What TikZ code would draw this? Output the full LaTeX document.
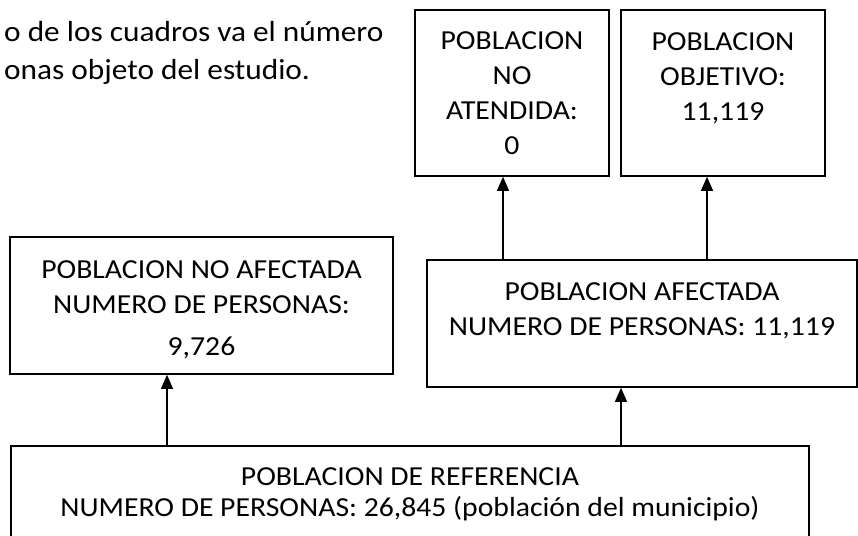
\documentclass[tikz,border=0pt]{standalone}
\usepackage{fontspec}
\setmainfont{Carlito}[FakeStretch=1.08]
\usetikzlibrary{arrows.meta}
\begin{document}
\begin{tikzpicture}[x=1pt,y=-1pt,
  box/.style={draw=black,line width=1.6pt,inner sep=0pt},
  txt/.style={align=center,inner sep=0pt,font=\fontsize{27.5}{35}\selectfont},
  arr/.style={line width=1.3pt,-{Triangle[width=12pt,length=14pt]}}]
\useasboundingbox (0,0) rectangle (858,535);
% boxes
\node[box,minimum width=194pt,minimum height=166pt] (A) at (512,93) {};
\node[box,minimum width=204pt,minimum height=166pt] (B) at (723,93) {};
\node[box,minimum width=383pt,minimum height=137pt] (C) at (201.5,305.5) {};
\node[box,minimum width=430pt,minimum height=127pt] (D) at (642,323.5) {};
\node[box,minimum width=798pt,minimum height=120pt] (E) at (410,506) {};
% texts (anchored at the baseline of their last line)
\node[txt,anchor=base] (tA) at (512,154) {POBLACION\\NO\\ATENDIDA:\\0};
\node[txt,anchor=base] (tB) at (723,120) {POBLACION\\OBJETIVO:\\11,119};
\node[txt,anchor=base] (tC) at (201.5,355) {POBLACION NO AFECTADA\\NUMERO DE PERSONAS:\\[7pt]9,726};
\node[txt,anchor=base] (tD) at (642,335) {POBLACION AFECTADA\\NUMERO DE PERSONAS: 11,119};
\node[txt,anchor=base] (tE) at (410,516) {POBLACION DE REFERENCIA\\[-4pt]NUMERO DE PERSONAS: 26,845 (población del municipio)};
\node[txt,align=left,anchor=base west,font=\fontsize{29}{38}\selectfont] (note) at (4,79) {o de los cuadros va el número\\onas objeto del estudio.};
% connectors
\coordinate (e1) at (167,446);
\coordinate (e2) at (621,446);
\coordinate (d1) at (503,260);
\coordinate (d2) at (707,260);
\draw[arr] (e1) -- (e1 |- C.south);
\draw[arr] (e2) -- (e2 |- D.south);
\draw[arr] (d1) -- (d1 |- A.south);
\draw[arr] (d2) -- (d2 |- B.south);
\end{tikzpicture}
\end{document}
